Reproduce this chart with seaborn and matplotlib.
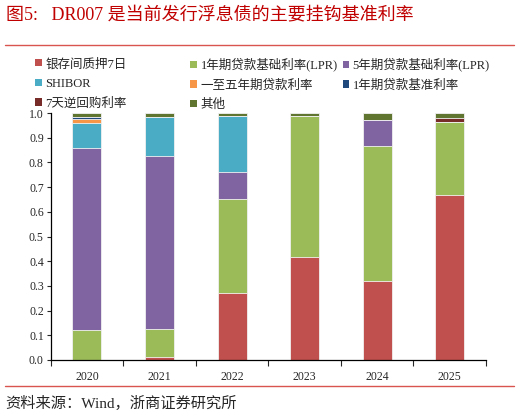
import numpy as np
import pandas as pd
import seaborn as sns
import matplotlib.pyplot as plt
from matplotlib.patches import Patch
from matplotlib.lines import Line2D

years = ['2020', '2021', '2022', '2023', '2024', '2025']

# segment shares per year, stacked bottom -> top
dr007 = [0.000, 0.013, 0.270, 0.418, 0.320, 0.668]
lpr_1y = [0.120, 0.112, 0.380, 0.570, 0.548, 0.297]
lpr_5y = [0.740, 0.702, 0.112, 0.000, 0.104, 0.000]
shibor = [0.098, 0.158, 0.226, 0.000, 0.000, 0.000]
loan_1to5y = [0.019, 0.000, 0.000, 0.000, 0.000, 0.000]
loan_1y_base = [0.008, 0.000, 0.000, 0.000, 0.000, 0.000]
repo_7d = [0.000, 0.000, 0.000, 0.000, 0.000, 0.013]
others = [0.015, 0.015, 0.012, 0.012, 0.028, 0.022]

labels = ['银存间质押7日', '1年期贷款基础利率(LPR)', '5年期贷款基础利率(LPR)',
          'SHIBOR', '一至五年期贷款利率', '1年期贷款基准利率',
          '7天逆回购利率', '其他']
series = [dr007, lpr_1y, lpr_5y, shibor, loan_1to5y, loan_1y_base, repo_7d, others]
colors = ['#C0504D', '#9BBB59', '#8064A2', '#4BACC6', '#F79646', '#1F497D',
          '#772C2A', '#5F7530']

sns.set_style('ticks')
plt.rcParams['font.family'] = ['Liberation Serif', 'Noto Sans CJK SC', 'DejaVu Sans']

df = pd.DataFrame(dict(zip(labels, series)), index=years)
cum = df.cumsum(axis=1)

fig = plt.figure(figsize=(5.19, 4.17), dpi=100)
ax = fig.add_axes([0.0977, 0.1367, 0.8387, 0.5923])

# draw cumulative totals from the top layer down so each lower layer overlays
for lab, col in zip(reversed(labels), reversed(colors)):
    sns.barplot(x=years, y=cum[lab].values, color=col, width=0.4,
                edgecolor='#f2f2f2', linewidth=0.6, saturation=1, ax=ax)

ax.set_ylim(0, 1.0)
ax.set_xlim(-0.5, 5.5)
ax.set_yticks(np.arange(0, 1.01, 0.1))
ax.set_yticklabels(['%.1f' % v for v in np.arange(0, 1.01, 0.1)], fontsize=8.5)
ax.set_xticks(range(len(years)))
ax.set_xticklabels(years, fontsize=8.5)
ax.set_xticks(np.arange(-0.5, 5.6, 1), minor=True)
ax.tick_params(axis='x', which='major', length=0, pad=8)
ax.tick_params(axis='x', which='minor', length=4, width=0.8, direction='out')
ax.tick_params(axis='y', length=3, width=0.8, direction='out', pad=2)
for s in ['top', 'right']:
    ax.spines[s].set_visible(False)
for s in ['left', 'bottom']:
    ax.spines[s].set_linewidth(0.9)
    ax.spines[s].set_color('black')
ax.set_xlabel('')
ax.set_ylabel('')

# legend in three fixed columns (row-major order)
handles = [Patch(facecolor=c, edgecolor='none') for c in colors]
col_x = [0.068, 0.367, 0.660]
for j in range(3):
    idx = list(range(j, len(labels), 3))
    leg = fig.legend([handles[i] for i in idx], [labels[i] for i in idx],
                     loc='upper left', bbox_to_anchor=(col_x[j], 0.861),
                     frameon=False, fontsize=9, handlelength=0.5,
                     handleheight=0.5, handletextpad=0.3, labelspacing=0.6,
                     borderaxespad=0, borderpad=0)

# title and decorative lines
fig.text(0.012, 0.962, '图5:   DR007 是当前发行浮息债的主要挂钩基准利率',
         color='#C00000', fontsize=13, va='center', ha='left')
fig.add_artist(Line2D([0.01, 0.99], [0.891, 0.891], color='#D9534F', lw=1.0))
fig.add_artist(Line2D([0.01, 0.99], [0.074, 0.074], color='#D9534F', lw=1.0))
fig.text(0.01, 0.033, '资料来源：Wind，浙商证券研究所', fontsize=11,
         va='center', ha='left')

fig.savefig('out.png', dpi=100)
